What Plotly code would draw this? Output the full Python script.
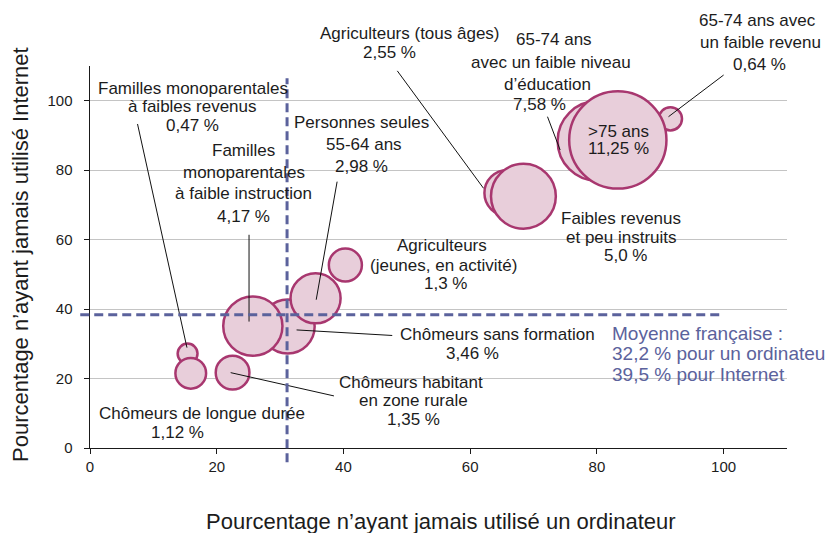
import plotly.graph_objects as go

# ---------------- data ----------------
groups = [
    "Familles monoparentales à faibles revenus",
    "Chômeurs de longue durée",
    "Chômeurs habitant en zone rurale",
    "Chômeurs sans formation",
    "Familles monoparentales à faible instruction",
    "Personnes seules 55-64 ans",
    "Agriculteurs (jeunes, en activité)",
    "Agriculteurs (tous âges)",
    "Faibles revenus et peu instruits",
    "65-74 ans avec un faible revenu",
    "65-74 ans avec un faible niveau d'éducation",
    ">75 ans",
]
pct_never_computer = [15.4, 15.9, 22.5, 31.2, 25.7, 35.6, 40.3, 65.9, 68.4, 91.6, 80.1, 83.3]
pct_never_internet = [27.2, 21.5, 21.7, 35.0, 35.1, 43.1, 52.7, 73.4, 72.5, 94.8, 88.4, 88.7]
population_share = [0.47, 1.12, 1.35, 3.46, 4.17, 2.98, 1.3, 2.55, 5.0, 0.64, 7.58, 11.25]

avg_computer_line = 31.1   # position of the dashed reference line as drawn
avg_internet_line = 38.4

x_ticks = [0, 20, 40, 60, 80, 100]
y_ticks = [0, 20, 40, 60, 80, 100]
AX_MAX = 110

# ---------------- label layout (data coords) ----------------
label_lines = [
    [("Familles monoparentales", 16.2, 103.6), ("à faibles revenus", 16.2, 98.3), ("0,47 %", 16.1, 93.0)],
    [("Familles", 24.3, 85.8), ("monoparentales", 24.3, 79.4), ("à faible instruction", 24.3, 73.4), ("4,17 %", 24.3, 66.8)],
    [("Personnes seules", 42.9, 93.7), ("55-64 ans", 43.2, 87.5), ("2,98 %", 42.9, 81.0)],
    [("Agriculteurs (tous âges)", 50.5, 119.4), ("2,55 %", 47.3, 113.8)],
    [("65-74 ans", 73.2, 117.5), ("avec un faible niveau", 72.8, 111.0), ("d’éducation", 72.2, 104.8), ("7,58 %", 70.9, 99.0)],
    [("65-74 ans avec", 105.4, 123.0), ("un faible revenu", 105.8, 116.7), ("0,64 %", 105.6, 110.3)],
    [(">75 ans", 83.4, 91.2), ("11,25 %", 83.4, 86.2)],
    [("Faibles revenus", 83.8, 66.2), ("et peu instruits", 83.9, 60.7), ("5,0 %", 84.5, 55.3)],
    [("Agriculteurs", 55.5, 58.2), ("(jeunes, en activité)", 55.8, 52.5), ("1,3 %", 56.1, 47.3)],
    [("Chômeurs sans formation", 64.3, 32.8), ("3,46 %", 60.3, 27.3)],
    [("Chômeurs habitant", 50.6, 19.0), ("en zone rurale", 51.1, 13.6), ("1,35 %", 51.0, 8.1)],
    [("Chômeurs de longue durée", 17.6, 9.9), ("1,12 %", 13.8, 4.5)],
]
leader_lines = [
    (7.5, 93.3, 15.3, 28.9),
    (25.1, 61.4, 25.1, 36.4),
    (39.0, 76.7, 35.7, 42.7),
    (48.5, 108.6, 62.1, 74.8),
    (72.2, 95.4, 74.2, 85.8),
    (100.0, 107.4, 91.3, 95.4),
    (47.7, 32.4, 32.6, 34.0),
    (38.5, 15.0, 22.2, 21.7),
]
avg_text = ["Moyenne française :", "32,2 % pour un ordinateur", "39,5 % pour Internet"]
avg_text_pos = [(82.0, 33.1), (82.0, 27.1), (82.0, 21.1)]

# ---------------- styles ----------------
FONT = "Liberation Sans, Arial, Helvetica, sans-serif"
TXT = "#1c1c1c"
BLUE = "#5B629C"
FILL = "#E8CEDA"
EDGE = "#A8376F"
RADIUS_K = 14.5  # px radius per sqrt(%)

fig = go.Figure()
fig.add_trace(go.Scatter(
    x=pct_never_computer, y=pct_never_internet,
    mode="markers",
    text=groups,
    marker=dict(size=population_share, sizemode="area",
                sizeref=1.0 / (2 * RADIUS_K ** 2),
                color=FILL, opacity=1,
                line=dict(color=EDGE, width=2.5)),
    hovertemplate="%{text}<extra></extra>",
    cliponaxis=False,
    showlegend=False,
))

shapes = []
for x0, y0, x1, y1 in leader_lines:
    shapes.append(dict(type="line", xref="x", yref="paper",
                       x0=x0, y0=y0 / AX_MAX, x1=x1, y1=y1 / AX_MAX,
                       line=dict(color="#111111", width=1), layer="above"))
# reference dashed lines
shapes.append(dict(type="line", xref="x", yref="paper", x0=avg_computer_line, x1=avg_computer_line,
                   y0=-0.037, y1=0.968, line=dict(color=BLUE, width=3, dash="9px,5px"), layer="above"))
shapes.append(dict(type="line", xref="paper", yref="y", x0=-0.014, x1=100 / AX_MAX,
                   y0=avg_internet_line, y1=avg_internet_line,
                   line=dict(color=BLUE, width=3, dash="9px,5px"), layer="above"))

annotations = []
for block in label_lines:
    for txt, ax, ay in block:
        annotations.append(dict(x=ax / AX_MAX, y=ay / AX_MAX, xref="paper", yref="paper", text=txt,
                                showarrow=False, xanchor="center", yanchor="middle",
                                font=dict(family=FONT, size=17, color=TXT)))
for txt, (ax, ay) in zip(avg_text, avg_text_pos):
    annotations.append(dict(x=ax / AX_MAX, y=ay / AX_MAX, xref="paper", yref="paper", text=txt,
                            showarrow=False, xanchor="left", yanchor="middle",
                            font=dict(family=FONT, size=19, color=BLUE)))
# axis titles
annotations.append(dict(x=0.504, y=-0.193, xref="paper", yref="paper",
                        text="Pourcentage n’ayant jamais utilisé un ordinateur",
                        showarrow=False, xanchor="center", yanchor="middle",
                        font=dict(family=FONT, size=22, color=TXT)))
annotations.append(dict(x=-0.0996, y=0.507, xref="paper", yref="paper",
                        text="Pourcentage n’ayant jamais utilisé Internet", textangle=-90,
                        showarrow=False, xanchor="center", yanchor="middle",
                        font=dict(family=FONT, size=22, color=TXT)))

fig.update_layout(
    width=825, height=525,
    margin=dict(l=81.5, r=46, t=58, b=84.7, pad=0),
    paper_bgcolor="white", plot_bgcolor="white",
    font=dict(family=FONT, color=TXT),
    shapes=shapes, annotations=annotations,
    xaxis=dict(range=[0, AX_MAX], tickvals=x_ticks, ticktext=[str(v) for v in x_ticks],
               showgrid=False, zeroline=False, showline=True, linecolor="#1a1a1a", linewidth=1.3,
               ticks="outside", ticklen=5, tickcolor="#1a1a1a", tickwidth=1.2,
               tickfont=dict(family=FONT, size=15, color=TXT)),
    yaxis=dict(range=[0, AX_MAX], tickvals=y_ticks,
               ticktext=[str(v) + "\u00a0\u00a0" for v in y_ticks],
               showgrid=True, gridcolor="#C4C4C4", gridwidth=1.3, zeroline=False,
               showline=True, linecolor="#1a1a1a", linewidth=1.3,
               ticks="outside", ticklen=5, tickcolor="#1a1a1a", tickwidth=1.2,
               tickfont=dict(family=FONT, size=15, color=TXT)),
    hovermode="closest",
)

fig.write_html("out.html")
